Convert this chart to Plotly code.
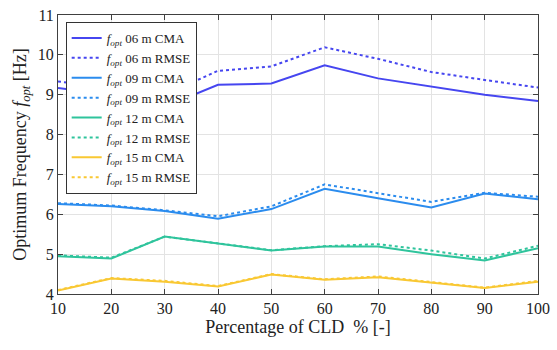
import plotly.graph_objects as go

cld = [10, 20, 30, 40, 50, 60, 70, 80, 90, 100]

f06_cma  = [9.17, 9.0, 8.7, 9.25, 9.28, 9.74, 9.41, 9.2, 9.0, 8.84]
f06_rmse = [9.33, 9.2, 9.0, 9.6, 9.71, 10.19, 9.9, 9.57, 9.37, 9.18]
f09_cma  = [6.26, 6.2, 6.08, 5.89, 6.13, 6.64, 6.4, 6.17, 6.52, 6.38]
f09_rmse = [6.28, 6.22, 6.1, 5.95, 6.2, 6.75, 6.53, 6.31, 6.54, 6.44]
f12_cma  = [4.95, 4.89, 5.44, 5.27, 5.09, 5.19, 5.19, 5.0, 4.84, 5.15]
f12_rmse = [4.97, 4.91, 5.44, 5.27, 5.1, 5.2, 5.25, 5.09, 4.89, 5.21]
f15_cma  = [4.09, 4.39, 4.31, 4.19, 4.49, 4.36, 4.42, 4.29, 4.15, 4.31]
f15_rmse = [4.1, 4.4, 4.33, 4.2, 4.5, 4.37, 4.44, 4.3, 4.16, 4.33]

series = [
    ("06 m CMA", f06_cma, "#4646f0", "solid"),
    ("06 m RMSE", f06_rmse, "#4646f0", "dot"),
    ("09 m CMA", f09_cma, "#2b8cee", "solid"),
    ("09 m RMSE", f09_rmse, "#2b8cee", "dot"),
    ("12 m CMA", f12_cma, "#2fc49c", "solid"),
    ("12 m RMSE", f12_rmse, "#2fc49c", "dot"),
    ("15 m CMA", f15_cma, "#f9c833", "solid"),
    ("15 m RMSE", f15_rmse, "#f9c833", "dot"),
]

SERIF = "Liberation Serif, Times New Roman, serif"

fig = go.Figure()
for name, vals, color, dash in series:
    fig.add_trace(go.Scatter(
        x=cld, y=vals, mode="lines",
        name="<i>f</i><sub><i>opt</i></sub> " + name,
        line=dict(color=color, width=2, dash=dash),
    ))

axis_common = dict(
    showline=True, linecolor="#404040", linewidth=1, mirror="ticks",
    ticks="inside", ticklen=5, tickcolor="#404040",
    showgrid=True, gridcolor="#e3e3e3", gridwidth=1, zeroline=False,
    tickfont=dict(family=SERIF, size=16, color="#222"),
    ticklabeloverflow="allow",
)

fig.update_layout(
    width=557, height=350,
    margin=dict(l=58, r=11, t=7, b=56),
    paper_bgcolor="white", plot_bgcolor="white",
    font=dict(family=SERIF, color="#222"),
    xaxis=dict(range=[10, 100], tickvals=cld, **axis_common,
               title=dict(text="Percentage of CLD  % [-]", font=dict(family=SERIF, size=18), standoff=4)),
    yaxis=dict(range=[4, 11], dtick=1, **axis_common,
               title=dict(text="Optimum Frequency <i>f</i><sub><i>opt</i></sub> [Hz]", font=dict(family=SERIF, size=18), standoff=6)),
    legend=dict(x=0.016, y=0.975, xanchor="left", yanchor="top",
                bgcolor="white", bordercolor="#333", borderwidth=1,
                font=dict(family=SERIF, size=13, color="#222"),
                tracegroupgap=0, itemwidth=30),
    showlegend=True,
)

fig.write_html("out.html")
